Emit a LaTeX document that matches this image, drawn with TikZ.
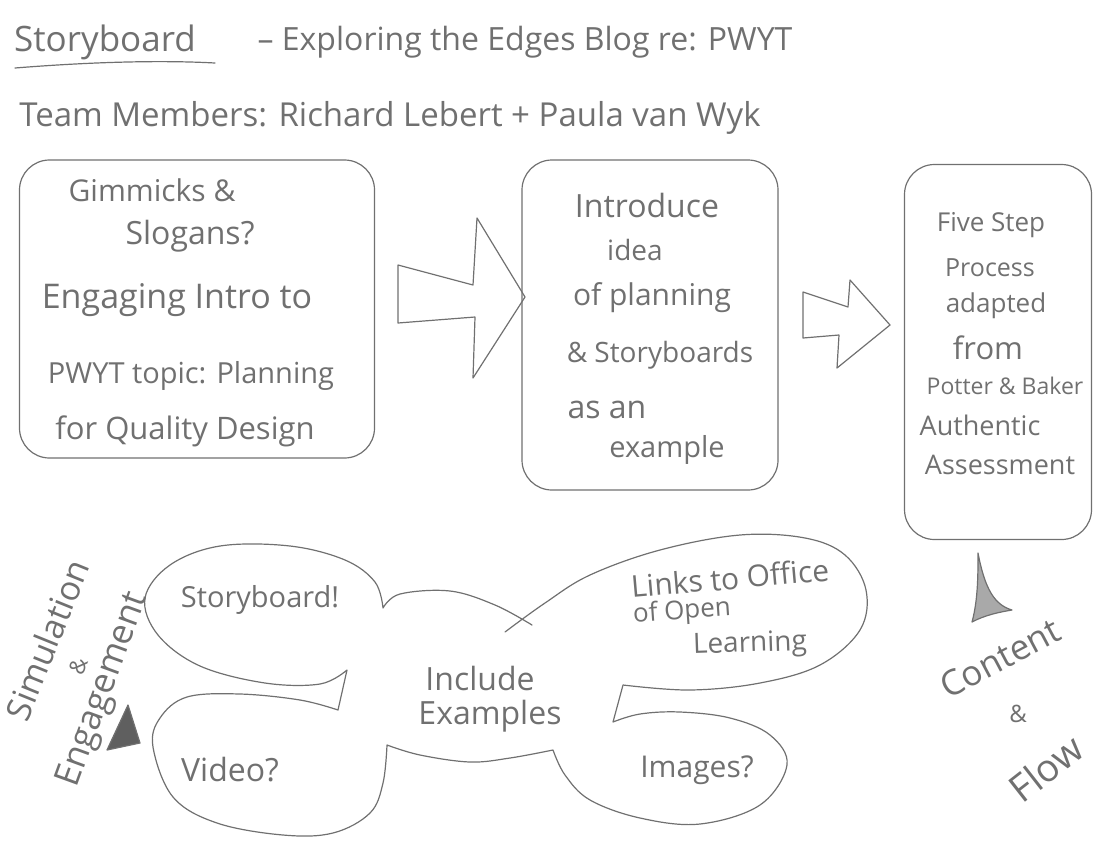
\documentclass[tikz,border=0pt]{standalone}
\usepackage{fontspec}
\setmainfont{Open Sans}
\definecolor{pencil}{HTML}{707070}
\newcommand\handsize[1]{\fontsize{#1}{#1}\selectfont}
\tikzset{
  sketch/.style={draw=pencil, line width=1.2pt, line join=round, line cap=round},
  box/.style={sketch, rounded corners=30pt, inner sep=0pt},
  hand/.style={text=pencil, inner sep=0pt, font=\handsize{28}},
}
\begin{document}
\begin{tikzpicture}[x=1pt, y=-1pt]
  \useasboundingbox (0,0) rectangle (1099,847);
  % heading
  \node[hand, font=\handsize{35}] (title) at (105,42) {Storyboard};
  \draw[sketch] (15,68) .. controls (90,62) and (160,60) .. (215,63);
  \node[hand, font=\handsize{32}] (blog) at (525,42) {– Exploring the Edges Blog re: PWYT};
  \node[hand, font=\handsize{33}] (team) at (390,118) {Team Members: Richard Lebert + Paula van Wyk};
  % first box: intro
  \node[box, minimum width=355, minimum height=298] (intro) at (197,309) {};
  \node[hand, font=\handsize{30}] (gimmicks) at (152,190) {Gimmicks \&};
  \node[hand, font=\handsize{32}] (slogans) at (190,236) {Slogans?};
  \node[hand, font=\handsize{34}] (engaging) at (177,300) {Engaging Intro to};
  \node[hand, font=\handsize{29}] (topic) at (191,376) {PWYT topic: Planning};
  \node[hand, font=\handsize{31}] (quality) at (185,431) {for Quality Design};
  % second box: planning idea
  \node[box, minimum width=256, minimum height=330] (idea) at (650,325) {};
  \node[hand, font=\handsize{32}] (introduce) at (647,205) {Introduce};
  \node[hand] (ideaw) at (635,250) {idea};
  \node[hand, font=\handsize{30}] (planning) at (652,298) {of planning};
  \node[hand] (boards) at (660,355) {\& Storyboards};
  \node[hand, font=\handsize{32}] (asan) at (607,410) {as an};
  \node[hand, font=\handsize{29}] (example) at (667,450) {example};
  % third box: five steps
  \node[box, minimum width=187, minimum height=375] (steps) at (998,352) {};
  \node[hand, font=\handsize{26}] (five) at (991,225) {Five Step};
  \node[hand, font=\handsize{25}] (process) at (990,268) {Process};
  \node[hand, font=\handsize{26}] (adapted) at (996,306) {adapted};
  \node[hand, font=\handsize{31}] (from) at (988,348) {from};
  \node[hand, font=\handsize{23}] (potter) at (1005,386) {Potter \& Baker};
  \node[hand, font=\handsize{27}] (authentic) at (980,425) {Authentic};
  \node[hand, font=\handsize{27}] (assess) at (1000,465) {Assessment};
  % block arrows between boxes
  \draw[sketch] (398,265) -- (473,285) -- (477,218) -- (525,297) -- (473,378) -- (475,317) -- (398,323) -- cycle;
  \draw[sketch] (803,292) -- (848,307) -- (850,280) -- (890,325) -- (837,368) -- (839,335) -- (803,338) -- cycle;
  % cloud of examples: one outline, corners at the joins
  \draw[sketch] plot[smooth, tension=0.6] coordinates {(532,625) (495,605) (450,591) (400,594) (383,608)}
    -- plot[smooth, tension=0.6] coordinates {(383,608) (375,582) (345,560) (290,546) (220,546) (170,565) (145,598) (158,635) (200,666) (265,683) (320,684) (347,670)}
    -- (338,710)
    -- plot[smooth, tension=0.6] coordinates {(338,710) (300,700) (240,694) (187,697) (160,718) (153,747) (173,797) (217,823) (283,835) (333,833) (370,813) (383,783) (387,745)}
    -- plot[smooth, tension=0.6] coordinates {(387,745) (420,755) (470,762) (510,758) (553,750)}
    -- plot[smooth, tension=0.6] coordinates {(553,750) (565,775) (590,800) (640,818) (700,824) (760,805) (787,765) (770,735) (730,718) (680,712) (640,714) (613,722)}
    -- (623,685)
    -- plot[smooth, tension=0.6] coordinates {(623,685) (690,690) (760,683) (820,665) (860,630) (866,590) (845,555) (805,538) (740,535) (660,550) (590,575) (545,603) (505,632)};
  \node[hand, font=\handsize{29}] (storyb) at (260,600) {Storyboard!};
  \node[hand, font=\handsize{32}] (video) at (230,770) {Video?};
  \node[hand, font=\handsize{32}] (include) at (480,678) {Include};
  \node[hand, font=\handsize{32}] (examples) at (490,716) {Examples};
  \node[hand, font=\handsize{30}, rotate=5] (links) at (730,578) {Links to Office};
  \node[hand, font=\handsize{26}, rotate=4] (open) at (682,612) {of Open};
  \node[hand, font=\handsize{28}, rotate=2] (learning) at (750,645) {Learning};
  \node[hand, font=\handsize{30}] (images) at (697,770) {Images?};
  % side notes with their triangles
  \node[hand, font=\handsize{34}, rotate=68] (simulation) at (47,640) {Simulation};
  \node[hand, font=\handsize{22}, rotate=68] (amp1) at (78,666) {\&};
  \node[hand, font=\handsize{35}, rotate=70] (engagement) at (104,690) {Engagement};
  \filldraw[sketch, fill=pencil!85!black] (128,705) -- (107,750) -- (140,743) -- cycle;
  \filldraw[sketch, fill=pencil!60] (978,553) .. controls (985,590) and (995,605) .. (1012,610)
    .. controls (1000,612) and (985,615) .. (972,622) .. controls (978,600) and (978,575) .. (978,553);
  \node[hand, font=\handsize{35}, rotate=28] (content) at (1000,658) {Content};
  \node[hand, font=\handsize{24}] (amp2) at (1018,714) {\&};
  \node[hand, font=\handsize{38}, rotate=38] (flow) at (1046,768) {Flow};
\end{tikzpicture}
\end{document}
